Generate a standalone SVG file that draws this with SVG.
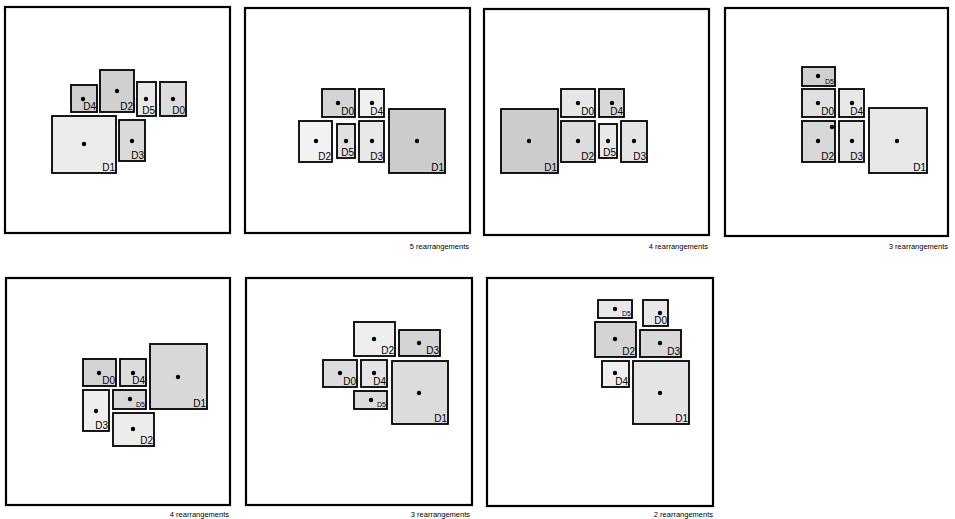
<svg xmlns="http://www.w3.org/2000/svg" width="955" height="519" viewBox="0 0 955 519">
<style>
.frame{fill:#fff;stroke:#000;stroke-width:2.2}
.b{stroke:#000;stroke-width:1.8}
.dot{fill:#000}
.lbl{font-family:"Liberation Sans",Arial,sans-serif;font-size:10px;text-anchor:end;fill:#000}
.sm{font-size:7px}
.cap{font-family:"Liberation Sans",Arial,sans-serif;font-size:7.5px;text-anchor:end;fill:#000}
</style>
<rect width="955" height="519" fill="#fff"/>

<g id="panel1">
<rect class="frame" x="5" y="7" width="225" height="226"/>
<g id="p1-D4"><rect class="b" x="71" y="85" width="26" height="27" fill="#d0d0d0"/><circle class="dot" cx="83" cy="99" r="2.2"/><text class="lbl" x="96" y="110">D4</text></g>
<g id="p1-D2"><rect class="b" x="100" y="70" width="34" height="42" fill="#d0d0d0"/><circle class="dot" cx="117" cy="91" r="2.2"/><text class="lbl" x="133" y="110">D2</text></g>
<g id="p1-D5"><rect class="b" x="137" y="82" width="19" height="34" fill="#e8e8e8"/><circle class="dot" cx="146" cy="99" r="2.2"/><text class="lbl" x="155" y="114">D5</text></g>
<g id="p1-D0"><rect class="b" x="160" y="82" width="26" height="34" fill="#dcdcdc"/><circle class="dot" cx="173" cy="99" r="2.2"/><text class="lbl" x="185" y="114">D0</text></g>
<g id="p1-D1"><rect class="b" x="52" y="116" width="64" height="57" fill="#ececec"/><circle class="dot" cx="84" cy="144" r="2.2"/><text class="lbl" x="115" y="171">D1</text></g>
<g id="p1-D3"><rect class="b" x="119" y="120" width="26" height="41" fill="#dadada"/><circle class="dot" cx="132" cy="141" r="2.2"/><text class="lbl" x="144" y="159">D3</text></g>
</g>

<g id="panel2">
<rect class="frame" x="245" y="8" width="225" height="225"/>
<g id="p2-D0"><rect class="b" x="322" y="89" width="33" height="28" fill="#d4d4d4"/><circle class="dot" cx="338" cy="103" r="2.2"/><text class="lbl" x="354" y="115">D0</text></g>
<g id="p2-D4"><rect class="b" x="359" y="89" width="25" height="28" fill="#f0f0f0"/><circle class="dot" cx="372" cy="103" r="2.2"/><text class="lbl" x="383" y="115">D4</text></g>
<g id="p2-D2"><rect class="b" x="299" y="121" width="33" height="41" fill="#f2f2f2"/><circle class="dot" cx="316" cy="141" r="2.2"/><text class="lbl" x="331" y="160">D2</text></g>
<g id="p2-D5"><rect class="b" x="337" y="124" width="18" height="34" fill="#e0e0e0"/><circle class="dot" cx="346" cy="141" r="2.2"/><text class="lbl" x="354" y="156">D5</text></g>
<g id="p2-D3"><rect class="b" x="359" y="121" width="25" height="41" fill="#e8e8e8"/><circle class="dot" cx="372" cy="141" r="2.2"/><text class="lbl" x="383" y="160">D3</text></g>
<g id="p2-D1"><rect class="b" x="389" y="109" width="56" height="64" fill="#cccccc"/><circle class="dot" cx="417" cy="141" r="2.2"/><text class="lbl" x="444" y="171">D1</text></g>
<text class="cap" x="469" y="249">5 rearrangements</text>
</g>

<g id="panel3">
<rect class="frame" x="484" y="9" width="225" height="226"/>
<g id="p3-D0"><rect class="b" x="561" y="89" width="34" height="28" fill="#e6e6e6"/><circle class="dot" cx="578" cy="103" r="2.2"/><text class="lbl" x="594" y="115">D0</text></g>
<g id="p3-D4"><rect class="b" x="599" y="89" width="25" height="28" fill="#d8d8d8"/><circle class="dot" cx="612" cy="103" r="2.2"/><text class="lbl" x="623" y="115">D4</text></g>
<g id="p3-D1"><rect class="b" x="501" y="109" width="57" height="64" fill="#cccccc"/><circle class="dot" cx="529" cy="141" r="2.2"/><text class="lbl" x="557" y="171">D1</text></g>
<g id="p3-D2"><rect class="b" x="561" y="121" width="34" height="41" fill="#dcdcdc"/><circle class="dot" cx="578" cy="141" r="2.2"/><text class="lbl" x="594" y="160">D2</text></g>
<g id="p3-D5"><rect class="b" x="599" y="124" width="18" height="34" fill="#e8e8e8"/><circle class="dot" cx="608" cy="141" r="2.2"/><text class="lbl" x="616" y="156">D5</text></g>
<g id="p3-D3"><rect class="b" x="621" y="121" width="26" height="41" fill="#e4e4e4"/><circle class="dot" cx="634" cy="141" r="2.2"/><text class="lbl" x="646" y="160">D3</text></g>
<text class="cap" x="708" y="249">4 rearrangements</text>
</g>

<g id="panel4">
<rect class="frame" x="725" y="8" width="223" height="228"/>
<g id="p4-D5"><rect class="b" x="802" y="67" width="33" height="19" fill="#d0d0d0"/><circle class="dot" cx="818" cy="76" r="2.2"/><text class="lbl sm" x="834" y="84">D5</text></g>
<g id="p4-D0"><rect class="b" x="802" y="89" width="33" height="28" fill="#e0e0e0"/><circle class="dot" cx="818" cy="103" r="2.2"/><text class="lbl" x="834" y="115">D0</text></g>
<g id="p4-D4"><rect class="b" x="839" y="89" width="25" height="28" fill="#e8e8e8"/><circle class="dot" cx="852" cy="103" r="2.2"/><text class="lbl" x="863" y="115">D4</text></g>
<g id="p4-D2"><rect class="b" x="802" y="121" width="33" height="41" fill="#d8d8d8"/><circle class="dot" cx="818" cy="141" r="2.2"/><circle class="dot" cx="832" cy="127" r="2.2"/><text class="lbl" x="834" y="160">D2</text></g>
<g id="p4-D3"><rect class="b" x="839" y="121" width="25" height="41" fill="#e4e4e4"/><circle class="dot" cx="852" cy="141" r="2.2"/><text class="lbl" x="863" y="160">D3</text></g>
<g id="p4-D1"><rect class="b" x="869" y="108" width="58" height="65" fill="#e8e8e8"/><circle class="dot" cx="897" cy="141" r="2.2"/><text class="lbl" x="926" y="171">D1</text></g>
<text class="cap" x="948" y="249">3 rearrangements</text>
</g>

<g id="panel5">
<rect class="frame" x="6" y="278" width="224" height="227"/>
<g id="p5-D0"><rect class="b" x="83" y="359" width="33" height="27" fill="#d4d4d4"/><circle class="dot" cx="99" cy="373" r="2.2"/><text class="lbl" x="115" y="384">D0</text></g>
<g id="p5-D4"><rect class="b" x="120" y="359" width="26" height="27" fill="#dcdcdc"/><circle class="dot" cx="133" cy="373" r="2.2"/><text class="lbl" x="145" y="384">D4</text></g>
<g id="p5-D1"><rect class="b" x="150" y="344" width="57" height="65" fill="#d8d8d8"/><circle class="dot" cx="178" cy="377" r="2.2"/><text class="lbl" x="206" y="407">D1</text></g>
<g id="p5-D5"><rect class="b" x="113" y="390" width="33" height="19" fill="#d8d8d8"/><circle class="dot" cx="130" cy="399" r="2.2"/><text class="lbl sm" x="145" y="407">D5</text></g>
<g id="p5-D3"><rect class="b" x="83" y="390" width="26" height="41" fill="#eeeeee"/><circle class="dot" cx="96" cy="411" r="2.2"/><text class="lbl" x="108" y="429">D3</text></g>
<g id="p5-D2"><rect class="b" x="113" y="413" width="41" height="33" fill="#ececec"/><circle class="dot" cx="133" cy="429" r="2.2"/><text class="lbl" x="153" y="444">D2</text></g>
<text class="cap" x="229" y="517">4 rearrangements</text>
</g>

<g id="panel6">
<rect class="frame" x="246" y="278" width="226" height="227"/>
<g id="p6-D2"><rect class="b" x="354" y="322" width="41" height="34" fill="#eeeeee"/><circle class="dot" cx="374" cy="339" r="2.2"/><text class="lbl" x="394" y="354">D2</text></g>
<g id="p6-D3"><rect class="b" x="399" y="330" width="41" height="26" fill="#d4d4d4"/><circle class="dot" cx="419" cy="343" r="2.2"/><text class="lbl" x="439" y="354">D3</text></g>
<g id="p6-D0"><rect class="b" x="323" y="360" width="34" height="27" fill="#dcdcdc"/><circle class="dot" cx="340" cy="373" r="2.2"/><text class="lbl" x="356" y="385">D0</text></g>
<g id="p6-D4"><rect class="b" x="361" y="360" width="26" height="27" fill="#e4e4e4"/><circle class="dot" cx="374" cy="373" r="2.2"/><text class="lbl" x="386" y="385">D4</text></g>
<g id="p6-D1"><rect class="b" x="392" y="361" width="56" height="63" fill="#dcdcdc"/><circle class="dot" cx="419" cy="393" r="2.2"/><text class="lbl" x="447" y="422">D1</text></g>
<g id="p6-D5"><rect class="b" x="354" y="391" width="33" height="18" fill="#dcdcdc"/><circle class="dot" cx="371" cy="400" r="2.2"/><text class="lbl sm" x="386" y="407">D5</text></g>
<text class="cap" x="470" y="517">3 rearrangements</text>
</g>

<g id="panel7">
<rect class="frame" x="487" y="278" width="226" height="228"/>
<g id="p7-D5"><rect class="b" x="598" y="300" width="34" height="18" fill="#e8e8e8"/><circle class="dot" cx="615" cy="309" r="2.2"/><text class="lbl sm" x="631" y="316">D5</text></g>
<g id="p7-D0"><rect class="b" x="643" y="300" width="25" height="26" fill="#e8e8e8"/><circle class="dot" cx="660" cy="313" r="2.2"/><text class="lbl" x="667" y="324">D0</text></g>
<g id="p7-D2"><rect class="b" x="595" y="322" width="41" height="35" fill="#d4d4d4"/><circle class="dot" cx="615" cy="339" r="2.2"/><text class="lbl" x="635" y="355">D2</text></g>
<g id="p7-D3"><rect class="b" x="640" y="330" width="41" height="27" fill="#d8d8d8"/><circle class="dot" cx="660" cy="343" r="2.2"/><text class="lbl" x="680" y="355">D3</text></g>
<g id="p7-D4"><rect class="b" x="602" y="361" width="27" height="26" fill="#eeeeee"/><circle class="dot" cx="615" cy="373" r="2.2"/><text class="lbl" x="628" y="385">D4</text></g>
<g id="p7-D1"><rect class="b" x="633" y="361" width="56" height="63" fill="#e4e4e4"/><circle class="dot" cx="660" cy="393" r="2.2"/><text class="lbl" x="688" y="422">D1</text></g>
<text class="cap" x="713" y="517">2 rearrangements</text>
</g>
</svg>
